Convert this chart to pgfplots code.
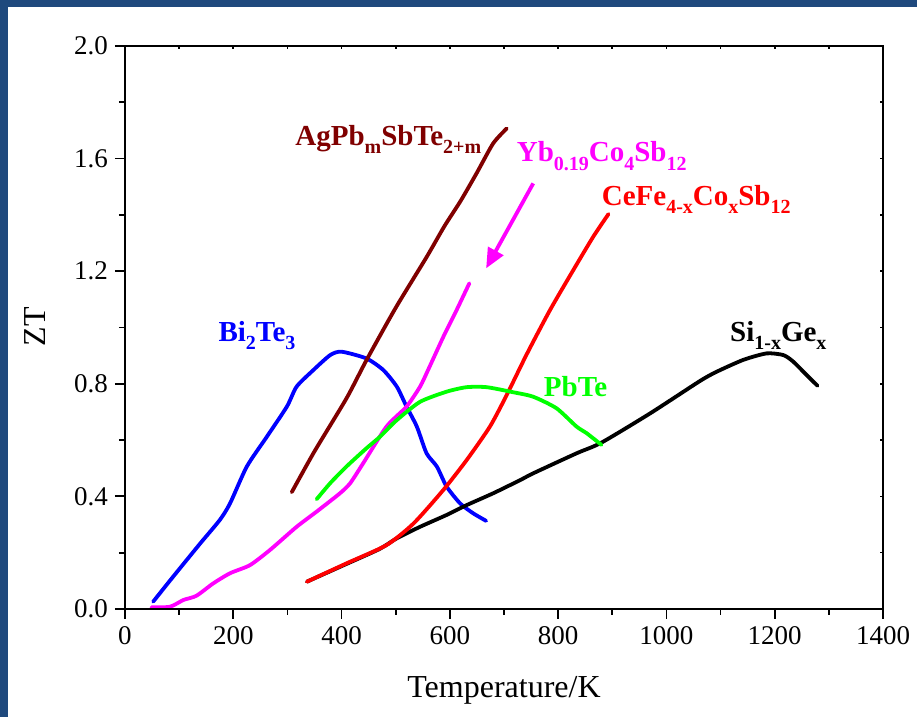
\documentclass[border=0pt]{standalone}
\usepackage{fontspec}
\setmainfont{Liberation Serif}
\usepackage{pgfplots}
\pgfplotsset{compat=1.18}
\usetikzlibrary{arrows.meta}
\definecolor{frameblue}{RGB}{31,73,125}
\definecolor{darkred}{RGB}{128,0,0}
\definecolor{brightgreen}{RGB}{0,255,0}
\definecolor{mag}{RGB}{255,0,255}
\newcommand\sub[1]{\raisebox{-4.2pt}{\fontsize{10}{11}\selectfont #1}}
\begin{document}
\begin{tikzpicture}
\useasboundingbox (-62.5pt,-54pt) rectangle (396pt,304.5pt);
\fill[white] (-62.5pt,-54pt) rectangle (396pt,304.5pt);
\fill[frameblue] (-62.5pt,301pt) rectangle (396pt,304.5pt);
\fill[frameblue] (-62.5pt,-54pt) rectangle (-58.5pt,304.5pt);
\begin{axis}[
  at={(0,0)}, anchor=south west,
  scale only axis, width=379pt, height=281.5pt,
  xmin=0, xmax=1400, ymin=0, ymax=2.0,
  xtick={0,200,...,1400}, minor x tick num=1,
  ytick={0,0.4,0.8,1.2,1.6,2.0}, minor y tick num=1,
  xtick pos=left, ytick pos=left,
  tick align=outside,
  major tick length=5pt, minor tick length=3pt,
  every tick/.style={black, line width=0.9pt},
  axis line style={line width=1pt},
  /pgf/number format/assume math mode=true,
  ticklabel style={font=\fontsize{13.5}{15}\selectfont},
  yticklabel style={/pgf/number format/fixed, /pgf/number format/fixed zerofill, /pgf/number format/precision=1},
  xticklabel style={/pgf/number format/set thousands separator={}},
  every axis plot/.append style={line width=1.9pt, line join=round, line cap=round, smooth, tension=0.4},
  clip=false,
]
% Bi2Te3
\addplot[blue] coordinates {
(52,0.026) (89,0.115) (139,0.233) (175,0.316) (194,0.375) (225,0.506) (262,0.612) (299,0.719) (317,0.790) (348,0.849) (379,0.902) (400,0.914) (446,0.890) (477,0.849) (502,0.790) (520,0.719) (539,0.648) (557,0.553) (576,0.506) (594,0.435) (619,0.375) (643,0.340) (667,0.313)};
% AgPbmSbTe2+m
\addplot[darkred] coordinates {
(308,0.415) (350,0.56) (409,0.748) (446,0.884) (500,1.07) (557,1.25) (590,1.36) (620,1.45) (650,1.55) (680,1.654) (705,1.707)};
% Yb0.19Co4Sb12
\addplot[mag] coordinates {
(49,0.006) (83,0.008) (108,0.032) (132,0.047) (163,0.091) (194,0.127) (231,0.156) (268,0.210) (317,0.292) (354,0.346) (397,0.411) (416,0.447) (440,0.518) (483,0.648) (520,0.719) (545,0.790) (560,0.85) (588,0.967) (612,1.06) (636,1.157)};
% SiGe
\addplot[black] coordinates {
(336,0.097) (409,0.160) (470,0.213) (502,0.251) (545,0.292) (594,0.334) (631,0.369) (680,0.411) (730,0.458) (754,0.482) (834,0.553) (880,0.591) (970,0.695) (1062,0.810) (1093,0.843) (1142,0.885) (1185,0.908) (1216,0.902) (1234,0.879) (1259,0.831) (1279,0.793)};
% CeFe4-xCoxSb12
\addplot[red] coordinates {
(336,0.097) (409,0.162) (483,0.227) (533,0.304) (588,0.423) (631,0.529) (674,0.648) (705,0.76) (742,0.905) (785,1.062) (828,1.204) (865,1.323) (893,1.403)};
% PbTe
\addplot[brightgreen] coordinates {
(354,0.390) (379,0.447) (409,0.506) (446,0.571) (471,0.612) (502,0.671) (545,0.736) (594,0.772) (631,0.788) (668,0.788) (717,0.770) (754,0.754) (797,0.713) (834,0.648) (853,0.624) (880,0.583)};
% arrow
\draw[mag, line width=1.9pt, -{Triangle[length=10pt,width=8.5pt]}] (axis cs:754,1.512) -- (axis cs:667,1.210);
% labels
\begin{scope}[every node/.style={font=\fontsize{14.5}{17}\selectfont\bfseries, inner sep=0pt}]
\node[darkred, anchor=base west] at (axis cs:314,1.648) {AgPb\sub{m}SbTe\sub{2+m}};
\node[mag, anchor=base west] at (axis cs:723,1.589) {Yb\sub{0.19}Co\sub{4}Sb\sub{12}};
\node[red, anchor=base west] at (axis cs:880,1.435) {CeFe\sub{4-x}Co\sub{x}Sb\sub{12}};
\node[blue, anchor=base west] at (axis cs:172,0.950) {Bi\sub{2}Te\sub{3}};
\node[brightgreen, anchor=base west] at (axis cs:773,0.754) {PbTe};
\node[black, anchor=base west] at (axis cs:1117,0.950) {Si\sub{1-x}Ge\sub{x}};
\end{scope}
\end{axis}
\begin{axis}[
  at={(0,0)}, anchor=south west,
  scale only axis, width=379pt, height=281.5pt,
  xmin=0, xmax=1400, ymin=0, ymax=2.0,
  xtick={0,100,...,1400}, ytick={0,0.2,...,2.0},
  xtick pos=right, ytick pos=right,
  tick align=inside, major tick length=1.5pt,
  every tick/.style={black, line width=0.8pt},
  axis line style={line width=1pt},
  xticklabels={}, yticklabels={},
]
\end{axis}
\node[font=\fontsize{16}{18}\selectfont] at (189.5pt,-40.5pt) {Temperature/K};
\node[font=\fontsize{16}{18}\selectfont, rotate=90] at (-45pt,141pt) {ZT};
\end{tikzpicture}
\end{document}
